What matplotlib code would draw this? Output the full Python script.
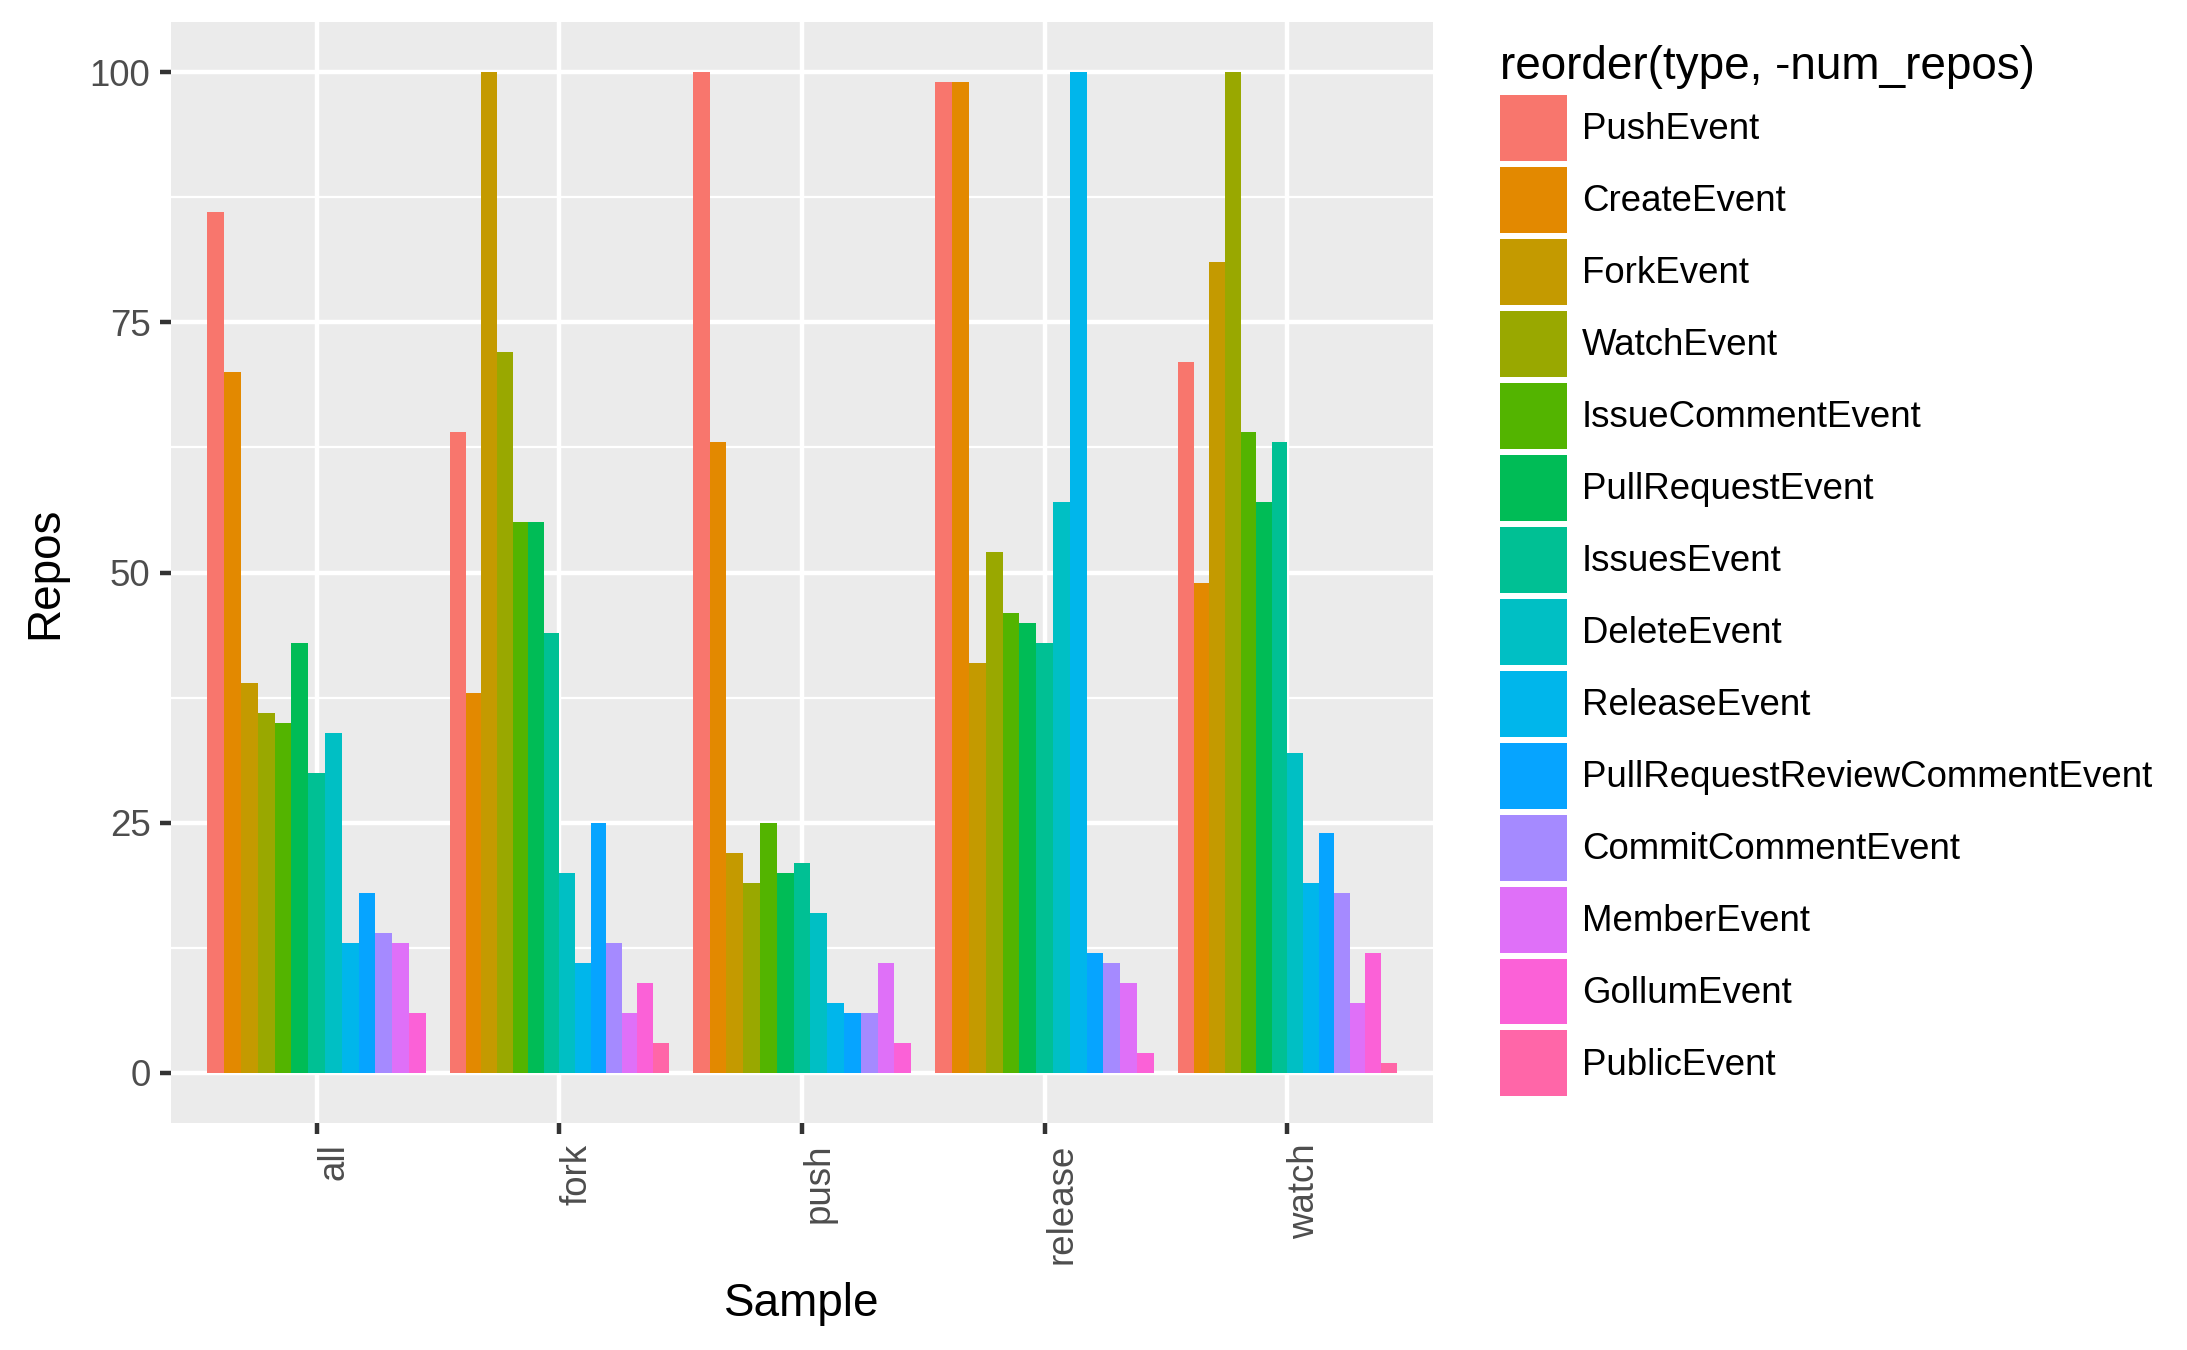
import numpy as np
import matplotlib
matplotlib.use('Agg')
import matplotlib.pyplot as plt

plt.rcParams['font.family'] = ['Liberation Sans', 'DejaVu Sans']

samples = ['all', 'fork', 'push', 'release', 'watch']
types = ['PushEvent', 'CreateEvent', 'ForkEvent', 'WatchEvent',
         'IssueCommentEvent', 'PullRequestEvent', 'IssuesEvent',
         'DeleteEvent', 'ReleaseEvent', 'PullRequestReviewCommentEvent',
         'CommitCommentEvent', 'MemberEvent', 'GollumEvent', 'PublicEvent']

# repos per event type (same order as types), None = type not in sample
all_repos = [86, 70, 39, 36, 35, 43, 30, 34, 13, 18, 14, 13, 6, None]
fork_repos = [64, 38, 100, 72, 55, 55, 44, 20, 11, 25, 13, 6, 9, 3]
push_repos = [100, 63, 22, 19, 25, 20, 21, 16, 7, 6, 6, 11, 3, None]
release_repos = [99, 99, 41, 52, 46, 45, 43, 57, 100, 12, 11, 9, 2, None]
watch_repos = [71, 49, 81, 100, 64, 57, 63, 32, 19, 24, 18, 7, 12, 1]

repos = [all_repos, fork_repos, push_repos, release_repos, watch_repos]

# ggplot hue palette, 14 levels
colors = ['#F8766D', '#E38900', '#C49A00', '#99A800', '#53B400', '#00BC56',
          '#00C094', '#00BFC4', '#00B6EB', '#06A4FF', '#A58AFF', '#DF70F8',
          '#FB61D7', '#FF66A8']

W, H, DPI = 2187, 1350, 300
fig = plt.figure(figsize=(W / DPI, H / DPI), dpi=DPI)
ax = fig.add_axes([171 / W, 1 - 1123 / H, (1433 - 171) / W, (1123 - 22) / H])
ax.set_facecolor('#EBEBEB')

# dodge: each sample shares 0.9 units among the types it has
xs = {k: [] for k in range(len(types))}
hs = {k: [] for k in range(len(types))}
ws = {k: [] for k in range(len(types))}
for i, vals in enumerate(repos):
    present = [k for k, v in enumerate(vals) if v is not None]
    n = len(present)
    w = 0.9 / n
    for j, k in enumerate(present):
        xs[k].append(i + 1 - 0.45 + w * (j + 0.5))
        hs[k].append(vals[k])
        ws[k].append(w)

handles = []
for k, t in enumerate(types):
    b = ax.bar(xs[k], hs[k], width=ws[k], color=colors[k], label=t,
               linewidth=0, zorder=3)
    handles.append(b)

ax.set_xlim(0.4, 5.6)
ax.set_ylim(-5, 105)
ax.set_xticks(range(1, 6))
ax.set_xticklabels(samples, rotation=90, va='top', ha='left')
ax.set_yticks([0, 25, 50, 75, 100])
ax.set_yticks([12.5, 37.5, 62.5, 87.5], minor=True)

ax.grid(which='major', color='white', linewidth=1.07, zorder=1)
ax.grid(which='minor', axis='y', color='white', linewidth=0.53, zorder=1)
ax.set_axisbelow(True)
for s in ax.spines.values():
    s.set_visible(False)

ax.tick_params(which='major', length=2.75, width=1.07, color='#333333',
               labelsize=8.8, labelcolor='#4D4D4D', pad=2.2)
ax.tick_params(which='minor', length=0)

ax.set_xlabel('Sample', fontsize=11, va='center')
ax.xaxis.set_label_coords(0.5, -(1304 - 1123) / 1101)
ax.set_ylabel('Repos', fontsize=11, va='center')
ax.yaxis.set_label_coords((45 - 171) / 1262, 0.5)

leg = fig.legend(handles=handles, labels=types, loc='upper left',
                 bbox_to_anchor=(1500 / W, 1 - 45 / H), frameon=False,
                 fontsize=8.8, title='reorder(type, -num_repos)',
                 title_fontsize=11, handlelength=1.83, handleheight=2.39,
                 labelspacing=0.164, handletextpad=0.4, borderpad=0,
                 borderaxespad=0)
leg._legend_box.align = 'left'

fig.savefig('out.png', dpi=DPI)
